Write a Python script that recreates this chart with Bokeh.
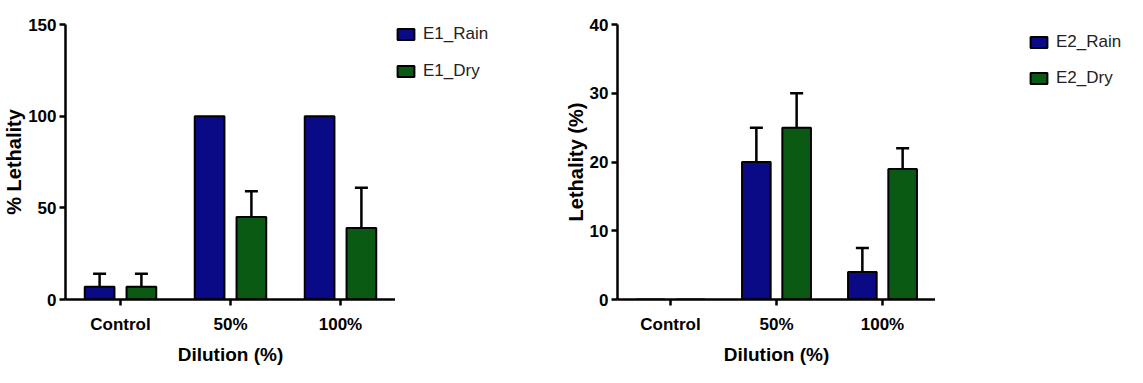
from bokeh.plotting import figure
from bokeh.layouts import row
from bokeh.models import (ColumnDataSource, FactorRange, Range1d, Legend, LegendItem,
                          Whisker, TeeHead, FixedTicker)
from bokeh.transform import dodge
from bokeh.embed import file_html
from bokeh.resources import INLINE

categories = ["Control", "50%", "100%"]

e1_rain = [7, 100, 100]
e1_rain_err = [7, 0, 0]
e1_dry = [7, 45, 39]
e1_dry_err = [7, 14, 22]

e2_rain = [0, 20, 4]
e2_rain_err = [0, 5, 3.5]
e2_dry = [0, 25, 19]
e2_dry_err = [0, 5, 3]

e1_ticks = [0, 50, 100, 150]
e2_ticks = [0, 10, 20, 30, 40]
e1_labels = ["E1_Rain", "E1_Dry"]
e2_labels = ["E2_Rain", "E2_Dry"]

RAIN = "#0a0a86"
DRY = "#0b5a14"
FONT = "Liberation Sans"
H = 367
TOP = 24
BOTTOM = 64


def make_chart(rain, rain_err, dry, dry_err, ymax, ticks, ytitle,
               fw, b_left, xl_standoff, xt_standoff, yt_standoff):
    p = figure(x_range=FactorRange(factors=categories), y_range=Range1d(0, ymax),
               frame_width=fw, height=H, output_backend="svg", toolbar_location=None,
               min_border_left=b_left, min_border_top=TOP,
               min_border_right=0, min_border_bottom=BOTTOM)
    p.outline_line_color = None
    p.grid.visible = False

    src = ColumnDataSource(dict(cat=categories, rain=rain, dry=dry))
    p.vbar(x=dodge("cat", -0.19, range=p.x_range), top="rain", width=0.27,
           source=src, fill_color=RAIN, line_color="black", line_width=2)
    p.vbar(x=dodge("cat", 0.19, range=p.x_range), top="dry", width=0.27,
           source=src, fill_color=DRY, line_color="black", line_width=2)

    for vals, errs, off in ((rain, rain_err, -0.19), (dry, dry_err, 0.19)):
        idx = [i for i, e in enumerate(errs) if e > 0]
        if not idx:
            continue
        es = ColumnDataSource(dict(cat=[categories[i] for i in idx],
                                   lo=[vals[i] for i in idx],
                                   hi=[vals[i] + errs[i] for i in idx]))
        w = Whisker(source=es, base=dodge("cat", off, range=p.x_range), upper="hi", lower="lo",
                    dimension="height", line_color="black", line_width=2.5,
                    upper_head=TeeHead(size=13, line_width=2.5, line_color="black"),
                    lower_head=None)
        p.add_layout(w)

    xa, ya = p.xaxis[0], p.yaxis[0]
    for ax in (xa, ya):
        ax.axis_line_width = 2.5
        ax.axis_line_color = "black"
        ax.major_tick_line_width = 2.5
        ax.major_tick_out = 6
        ax.major_tick_in = 0
        ax.minor_tick_line_color = None
        ax.major_label_text_font = FONT
        ax.major_label_text_font_style = "bold"
        ax.major_label_text_font_size = "17px"
        ax.major_label_text_color = "black"
        ax.axis_label_text_font = FONT
        ax.axis_label_text_font_style = "bold"
        ax.axis_label_text_color = "black"

    xa.axis_label = "Dilution (%)"
    xa.axis_label_text_font_size = "19px"
    xa.major_label_standoff = xl_standoff
    xa.axis_label_standoff = xt_standoff
    ya.axis_label = ytitle
    ya.axis_label_text_font_size = "20px"
    ya.ticker = FixedTicker(ticks=ticks)
    ya.major_label_standoff = 3
    ya.axis_label_standoff = yt_standoff
    return p


def make_legend(labels, rain, dry, ymax, width, b_left, margin, spacing):
    # legend-only panel: its bars repeat the chart values but are hidden,
    # so only the legend swatches and labels are drawn
    q = figure(x_range=FactorRange(factors=categories), y_range=Range1d(0, ymax),
               width=width, height=H, output_backend="svg", toolbar_location=None,
               x_axis_location=None, y_axis_location=None,
               min_border_left=b_left, min_border_right=0,
               min_border_top=TOP, min_border_bottom=BOTTOM)
    q.outline_line_color = None
    q.grid.visible = False
    src = ColumnDataSource(dict(cat=categories, rain=rain, dry=dry))
    ra = q.vbar(x="cat", top="rain", width=0.5, source=src,
                fill_color=RAIN, line_color="black", line_width=2)
    rb = q.vbar(x="cat", top="dry", width=0.5, source=src,
                fill_color=DRY, line_color="black", line_width=2)
    ra.visible = False
    rb.visible = False
    legend = Legend(items=[LegendItem(label=labels[0], renderers=[ra]),
                           LegendItem(label=labels[1], renderers=[rb])],
                    location="top_left", orientation="vertical",
                    glyph_width=21, glyph_height=14, label_height=20,
                    spacing=spacing, padding=0, margin=margin, label_standoff=7,
                    label_text_font=FONT, label_text_font_size="17px",
                    label_text_color="#222222",
                    border_line_color=None, background_fill_alpha=0)
    q.add_layout(legend)
    return q


p1 = make_chart(e1_rain, e1_rain_err, e1_dry, e1_dry_err, 150, e1_ticks, "% Lethality",
                330, 62, 9, 7, 0)
l1 = make_legend(e1_labels, e1_rain, e1_dry, 150, 160, 0, 0, 17)
p2 = make_chart(e2_rain, e2_rain_err, e2_dry, e2_dry_err, 40, e2_ticks, "Lethality (%)",
                318, 62, 9, 7, 0)
l2 = make_legend(e2_labels, e2_rain, e2_dry, 40, 195, 85, 8, 16)

layout = row(p1, l1, p2, l2, spacing=0)
open("out.html", "w").write(file_html(layout, INLINE))
